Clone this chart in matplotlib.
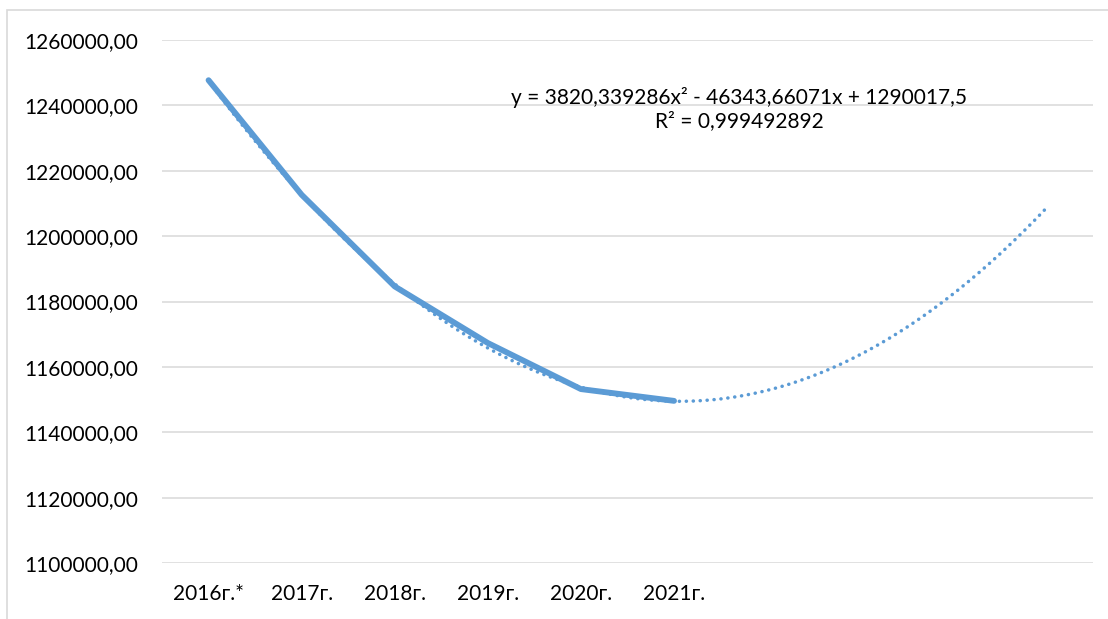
import numpy as np
import matplotlib.pyplot as plt
from matplotlib.patches import Rectangle

# data
years = ['2016г.*', '2017г.', '2018г.', '2019г.', '2020г.', '2021г.']
values = [1247700, 1212650, 1184600, 1167300, 1153200, 1149600]

# polynomial trend line as printed on the chart (forecast 4 periods forward)
trend_coef = [3820.339286, -46343.66071, 1290017.5]
forward_periods = 4
eq_text = 'y = 3820,339286x² - 46343,66071x + 1290017,5\nR² = 0,999492892'

blue = '#5B9BD5'
grid_gray = '#D9D9D9'

plt.rcParams['font.family'] = ['Lato', 'DejaVu Sans']

fig = plt.figure(figsize=(11.08, 6.19), dpi=100)
ax = fig.add_axes([162 / 1108, 1 - 563 / 619, (1093 - 162) / 1108, (563 - 40) / 619])

x = np.arange(1, len(values) + 1)
n_cat = len(values) + forward_periods

# trend line
xt = np.linspace(1, n_cat, 300)
yt = np.polyval(trend_coef, xt)
ax.plot(xt, yt, color=blue, lw=2.5, linestyle=(0, (0.05, 1.95)),
        dash_capstyle='round', zorder=3)

# main series
ax.plot(x, values, color=blue, lw=4.2, solid_capstyle='round',
        solid_joinstyle='round', zorder=2)

ax.set_xlim(0.5, n_cat + 0.5)
ax.set_ylim(1100000, 1260000)
ax.set_yticks(np.arange(1100000, 1260001, 20000))
ax.set_yticklabels([f'{v:.2f}'.replace('.', ',') for v in np.arange(1100000, 1260001, 20000)])
ax.set_xticks(x)
ax.set_xticklabels(years)

ax.grid(axis='y', color=grid_gray, lw=1.1)
ax.set_axisbelow(True)
for s in ax.spines.values():
    s.set_visible(False)
ax.tick_params(axis='both', length=0, labelsize=15, colors='#000000')
ax.tick_params(axis='y', pad=17)
ax.tick_params(axis='x', pad=15)

ax.text(6.7, 1239000, eq_text, ha='center', va='center', fontsize=15,
        linespacing=1.2)

# outer chart border (cropped at right and bottom)
fig.patches.append(Rectangle((7 / 1108, -0.1), 1.2, 1.1 - 10 / 619,
                             transform=fig.transFigure, fill=False,
                             edgecolor=grid_gray, lw=1.2))

fig.savefig('out.png', dpi=100, facecolor='white')
